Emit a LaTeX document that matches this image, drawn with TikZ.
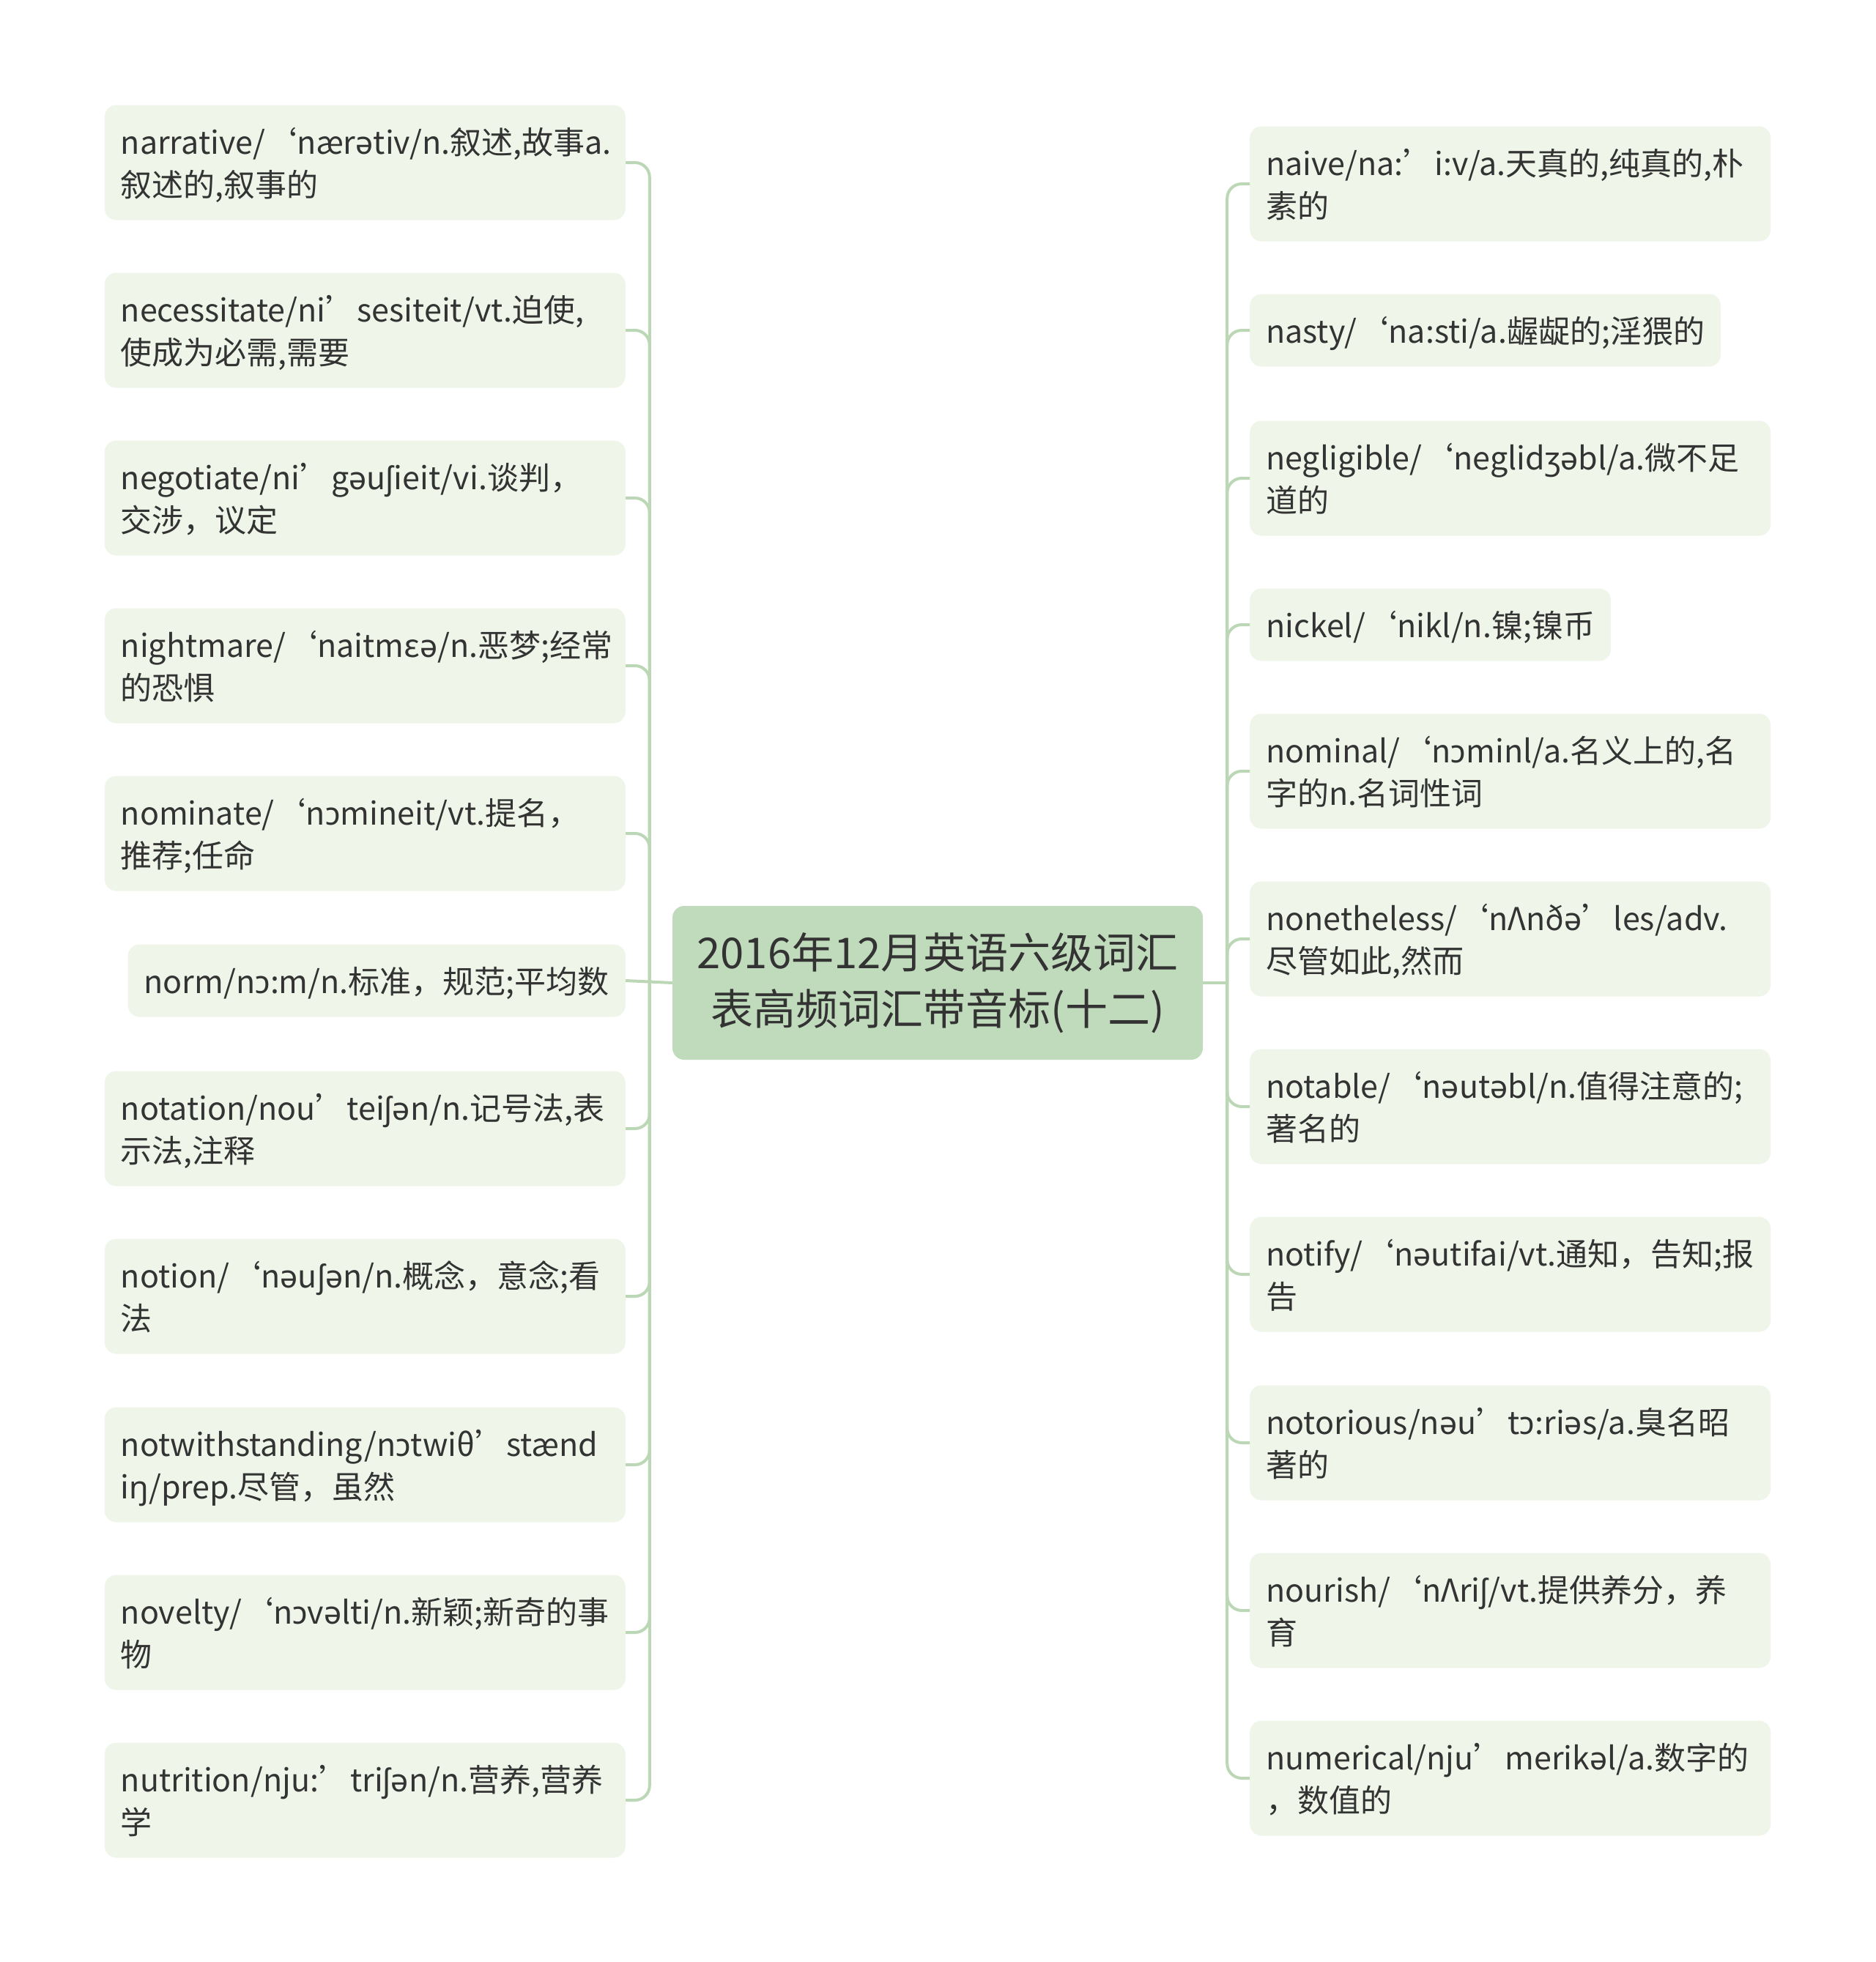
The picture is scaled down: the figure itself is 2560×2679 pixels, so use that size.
\documentclass[tikz,border=0pt]{standalone}
\usepackage{fontspec}
\setmainfont{Noto Sans CJK SC}
\newfontfamily\ipafont{Noto Sans}
\usepackage{xcolor}

% IPA letters missing from the CJK font
\newcommand{\ipatxt}[1]{{\ipafont #1}}

\definecolor{leaffill}{RGB}{239,246,233}
\definecolor{rootfill}{RGB}{192,219,187}
\definecolor{linkgreen}{RGB}{188,215,182}
\definecolor{inkgray}{RGB}{51,51,51}

\begin{document}
\begin{tikzpicture}[x=1pt,y=-1pt,
    leaf/.style={fill=leaffill,rounded corners=16pt,align=left,text=inkgray,
        inner xsep=22pt,inner ysep=20.5pt,font=\fontsize{43}{58}\selectfont,
        execute at begin node={\hyphenpenalty=10000\rule{0pt}{46pt}},execute at end node={\rule[-12pt]{0pt}{12pt}}},
    wide/.style={leaf,text width=667pt},
    link/.style={draw=linkgreen,line width=4pt,rounded corners=20pt}]
    \fill[white] (0,0) rectangle (2560,2679);
    \useasboundingbox (0,0) rectangle (2560,2679);

    % centre
    \node[fill=rootfill,rounded corners=16pt,align=center,text=inkgray,minimum width=724pt,minimum height=210pt,
        font=\fontsize{58}{77}\selectfont] (root) at (1280,1342)
        {2016年12月英语六级词汇\\表高频词汇带音标(十二)};

    % left side
    \node[wide,anchor=east] (l1) at (854,222) {narrative/‘nær\ipatxt{ə}tiv/n.叙述,故事a.\\叙述的,叙事的};
    \node[wide,anchor=east] (l2) at (854,451) {necessitate/ni’sesiteit/vt.迫使,\\使成为必需,需要};
    \node[wide,anchor=east] (l3) at (854,680) {negotiate/ni’g\ipatxt{ə}u\ipatxt{ʃ}ieit/vi.谈判，\\交涉，议定};
    \node[wide,anchor=east] (l4) at (854,909) {nightmare/‘naitmε\ipatxt{ə}/n.恶梦;经常\\的恐惧};
    \node[wide,anchor=east] (l5) at (854,1138) {nominate/‘n\ipatxt{ɔ}mineit/vt.提名，\\推荐;任命};
    \node[leaf,anchor=east] (l6) at (854,1339) {norm/n\ipatxt{ɔ}:m/n.标准，规范;平均数};
    \node[wide,anchor=east] (l7) at (854,1541) {notation/nou’tei\ipatxt{ʃə}n/n.记号法,表\\示法,注释};
    \node[wide,anchor=east] (l8) at (854,1770) {notion/‘n\ipatxt{ə}u\ipatxt{ʃə}n/n.概念，意念;看\\法};
    \node[wide,anchor=east] (l9) at (854,2000) {notwithstanding/n\ipatxt{ɔ}twiθ’stænd\\i\ipatxt{ŋ}/prep.尽管，虽然};
    \node[wide,anchor=east] (l10) at (854,2229) {novelty/‘n\ipatxt{ɔ}v\ipatxt{ə}lti/n.新颖;新奇的事\\物};
    \node[wide,anchor=east] (l11) at (854,2458) {nutrition/nju:’tri\ipatxt{ʃə}n/n.营养,营养\\学};

    % right side
    \node[wide,anchor=west] (r1) at (1706,251) {naive/na:’i:v/a.天真的,纯真的,朴\\素的};
    \node[leaf,anchor=west] (r2) at (1706,451) {nasty/‘na:sti/a.龌龊的;淫猥的};
    \node[wide,anchor=west] (r3) at (1706,653) {negligible/‘neglid\ipatxt{ʒə}bl/a.微不足\\道的};
    \node[leaf,anchor=west] (r4) at (1706,853) {nickel/‘nikl/n.镍;镍币};
    \node[wide,anchor=west] (r5) at (1706,1053) {nominal/‘n\ipatxt{ɔ}minl/a.名义上的,名\\字的n.名词性词};
    \node[wide,anchor=west] (r6) at (1706,1282) {nonetheless/‘nΛnð\ipatxt{ə}’les/adv.\\尽管如此,然而};
    \node[wide,anchor=west] (r7) at (1706,1511) {notable/‘n\ipatxt{ə}ut\ipatxt{ə}bl/n.值得注意的;\\著名的};
    \node[wide,anchor=west] (r8) at (1706,1740) {notify/‘n\ipatxt{ə}utifai/vt.通知，告知;报\\告};
    \node[wide,anchor=west] (r9) at (1706,1970) {notorious/n\ipatxt{ə}u’t\ipatxt{ɔ}:ri\ipatxt{ə}s/a.臭名昭\\著的};
    \node[wide,anchor=west] (r10) at (1706,2199) {nourish/‘nΛri\ipatxt{ʃ}/vt.提供养分，养\\育};
    \node[wide,anchor=west] (r11) at (1706,2428) {numerical/nju’merik\ipatxt{ə}l/a.数字的\\，数值的};

    % branches
    \draw[link] (root.west) -- (l6.east);
    \draw[link] (root.west) ++(-31,0) |- (l1.east);
    \draw[link] (root.west) ++(-31,0) |- (l2.east);
    \draw[link] (root.west) ++(-31,0) |- (l3.east);
    \draw[link] (root.west) ++(-31,0) |- (l4.east);
    \draw[link] (root.west) ++(-31,0) |- (l5.east);
    \draw[link] (root.west) ++(-31,0) |- (l7.east);
    \draw[link] (root.west) ++(-31,0) |- (l8.east);
    \draw[link] (root.west) ++(-31,0) |- (l9.east);
    \draw[link] (root.west) ++(-31,0) |- (l10.east);
    \draw[link] (root.west) ++(-31,0) |- (l11.east);
    \draw[link] (root.east) -- ++(33,0);
    \draw[link] (root.east) ++(33,0) |- (r1.west);
    \draw[link] (root.east) ++(33,0) |- (r2.west);
    \draw[link] (root.east) ++(33,0) |- (r3.west);
    \draw[link] (root.east) ++(33,0) |- (r4.west);
    \draw[link] (root.east) ++(33,0) |- (r5.west);
    \draw[link] (root.east) ++(33,0) |- (r6.west);
    \draw[link] (root.east) ++(33,0) |- (r7.west);
    \draw[link] (root.east) ++(33,0) |- (r8.west);
    \draw[link] (root.east) ++(33,0) |- (r9.west);
    \draw[link] (root.east) ++(33,0) |- (r10.west);
    \draw[link] (root.east) ++(33,0) |- (r11.west);
\end{tikzpicture}
\end{document}
